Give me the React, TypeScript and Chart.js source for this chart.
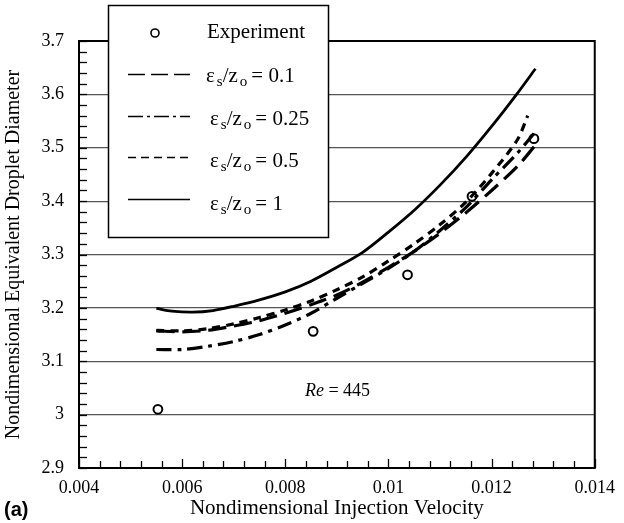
import React, { useEffect, useRef } from "react";
import { Chart, registerables } from "chart.js";

Chart.register(...registerables);

// ---- data ----
const xTicks = [0.004, 0.006, 0.008, 0.01, 0.012, 0.014];
const xTickLabels = ["0.004", "0.006", "0.008", "0.01", "0.012", "0.014"];
const yTicks = [2.9, 3.0, 3.1, 3.2, 3.3, 3.4, 3.5, 3.6, 3.7];
const yTickLabels = ["2.9", "3", "3.1", "3.2", "3.3", "3.4", "3.5", "3.6", "3.7"];

const expX = [0.00553, 0.00854, 0.01037, 0.01162, 0.01282];
const expY = [3.01, 3.156, 3.262, 3.409, 3.517];

const e01X = [0.0055, 0.006, 0.0065, 0.007, 0.0075, 0.008, 0.0085, 0.009, 0.0095, 0.01, 0.0105, 0.011, 0.0115, 0.012, 0.0125, 0.01285];
const e01Y = [3.157, 3.155, 3.158, 3.166, 3.176, 3.19, 3.206, 3.224, 3.248, 3.276, 3.306, 3.34, 3.378, 3.42, 3.465, 3.505];

const e025X = [0.0055, 0.006, 0.0065, 0.007, 0.0075, 0.008, 0.0085, 0.009, 0.0095, 0.01, 0.0105, 0.011, 0.0115, 0.012, 0.0125, 0.01285];
const e025Y = [3.122, 3.122, 3.128, 3.137, 3.15, 3.168, 3.19, 3.218, 3.246, 3.274, 3.306, 3.345, 3.388, 3.44, 3.49, 3.53];

const e05X = [0.0055, 0.006, 0.0065, 0.007, 0.0075, 0.008, 0.0085, 0.009, 0.0095, 0.01, 0.0105, 0.011, 0.0115, 0.012, 0.0125, 0.0127];
const e05Y = [3.158, 3.157, 3.161, 3.17, 3.182, 3.196, 3.213, 3.234, 3.258, 3.288, 3.32, 3.356, 3.398, 3.452, 3.515, 3.56];

const e1X = [0.0055, 0.0058, 0.0062, 0.0066, 0.007, 0.0075, 0.008, 0.0085, 0.009, 0.0095, 0.01, 0.0105, 0.011, 0.0115, 0.012, 0.0125, 0.01285];
const e1Y = [3.199, 3.194, 3.192, 3.195, 3.203, 3.215, 3.23, 3.25, 3.276, 3.304, 3.342, 3.383, 3.43, 3.482, 3.54, 3.602, 3.648];

const legendValues = ["0.1", "0.25", "0.5", "1"];
const reLabel = "445";

const SERIF = "'Liberation Serif', 'Times New Roman', serif";

const zip = (xs: number[], ys: number[]) => xs.map((x, i) => ({ x, y: ys[i] }));

const decorPlugin = {
  id: "decor",
  afterDraw(chart: any) {
    const { ctx, chartArea, scales } = chart;
    const xs = scales.x;
    const ys = scales.y;
    ctx.save();
    // frame
    ctx.strokeStyle = "#000";
    ctx.lineWidth = 2;
    ctx.strokeRect(chartArea.left, chartArea.top, chartArea.right - chartArea.left, chartArea.bottom - chartArea.top);
    // minor ticks x
    ctx.lineWidth = 1.3;
    for (let i = 0; i <= 25; i++) {
      const v = 0.004 + i * 0.0004;
      const px = Math.round(xs.getPixelForValue(v)) + 0.5;
      const len = i % 5 === 0 ? 9 : 7;
      ctx.beginPath();
      ctx.moveTo(px, chartArea.bottom);
      ctx.lineTo(px, chartArea.bottom - len);
      ctx.stroke();
    }
    // minor ticks y
    for (let i = 0; i <= 40; i++) {
      const v = 2.9 + i * 0.02;
      const py = Math.round(ys.getPixelForValue(v)) + 0.5;
      ctx.beginPath();
      ctx.moveTo(chartArea.left, py);
      ctx.lineTo(chartArea.left + 8, py);
      ctx.stroke();
    }

    // Re label
    ctx.fillStyle = "#000";
    ctx.textBaseline = "middle";
    ctx.textAlign = "left";
    const reX = xs.getPixelForValue(0.00838);
    const reY = ys.getPixelForValue(3.043);
    ctx.font = `italic 18px ${SERIF}`;
    ctx.fillText("Re", reX, reY);
    const rw = ctx.measureText("Re").width;
    ctx.font = `18px ${SERIF}`;
    ctx.fillText(" = " + reLabel, reX + rw, reY);

    // (a)
    ctx.font = "bold 20px 'Liberation Sans', Arial, sans-serif";
    ctx.fillText("(a)", 4, 510);

    // legend box
    const bx = 108.5, by = 5.5, bw = 220, bh = 232;
    ctx.fillStyle = "#fff";
    ctx.fillRect(bx, by, bw, bh);
    ctx.strokeStyle = "#000";
    ctx.lineWidth = 1.5;
    ctx.strokeRect(bx, by, bw, bh);

    // Experiment row
    ctx.lineWidth = 1.6;
    ctx.beginPath();
    ctx.arc(155, 33, 4, 0, Math.PI * 2);
    ctx.stroke();
    ctx.fillStyle = "#000";
    ctx.font = `21px ${SERIF}`;
    ctx.fillText("Experiment", 207, 32);

    const dashes = [[17, 6], [15, 4, 3, 4], [8, 5], []];
    const rowY = [75, 117, 158, 200];
    const textX = [206, 210, 210, 210];
    const textY = [76, 119, 161, 204];
    for (let k = 0; k < 4; k++) {
      const y = rowY[k];
      ctx.setLineDash(dashes[k]);
      ctx.lineWidth = 1.5;
      ctx.beginPath();
      ctx.moveTo(128, y - 0.5);
      ctx.lineTo(190, y - 0.5);
      ctx.stroke();
      ctx.setLineDash([]);
      let tx = textX[k];
      const ty = textY[k];
      ctx.font = `21px ${SERIF}`;
      ctx.fillText("\u03b5", tx, ty);
      tx += ctx.measureText("\u03b5").width + 2;
      ctx.font = `15px ${SERIF}`;
      ctx.fillText("s", tx, ty + 6);
      tx += ctx.measureText("s").width;
      ctx.font = `21px ${SERIF}`;
      ctx.fillText("/", tx, ty);
      tx += ctx.measureText("/").width;
      ctx.fillText("z", tx, ty);
      tx += ctx.measureText("z").width + 2;
      ctx.font = `15px ${SERIF}`;
      ctx.fillText("o", tx, ty + 6);
      tx += ctx.measureText("o").width + 4;
      ctx.font = `21px ${SERIF}`;
      ctx.fillText("= " + legendValues[k], tx, ty);
    }
    ctx.restore();
  },
};

export default function App() {
  const ref = useRef<HTMLCanvasElement | null>(null);
  useEffect(() => {
    if (!ref.current) return;
    const lineDs = (label: string, xs: number[], ys: number[], dash: number[], width: number) => ({
      type: "line" as const,
      label,
      data: zip(xs, ys),
      showLine: true,
      borderColor: "#000",
      borderWidth: width,
      borderDash: dash,
      pointRadius: 0,
      fill: false,
      tension: 0.3,
    });
    const chart = new Chart(ref.current, {
      type: "scatter",
      data: {
        datasets: [
          lineDs("0.1", e01X, e01Y, [18, 8], 3.2),
          lineDs("0.25", e025X, e025Y, [15, 6, 4, 6], 3.2),
          lineDs("0.5", e05X, e05Y, [8, 6], 3.2),
          lineDs("1", e1X, e1Y, [], 2.8),
          {
            type: "scatter" as const,
            label: "Experiment",
            data: zip(expX, expY),
            pointRadius: 4.4,
            pointBorderWidth: 2,
            pointBorderColor: "#000",
            pointBackgroundColor: "rgba(255,255,255,0)",
            showLine: false,
          } as any,
        ],
      },
      options: {
        animation: false,
        responsive: false,
        maintainAspectRatio: false,
        layout: { padding: { top: 41, right: 20, left: 0, bottom: 0 } },
        plugins: { legend: { display: false }, tooltip: { enabled: false } },
        scales: {
          x: {
            type: "linear",
            min: 0.004,
            max: 0.014,
            afterBuildTicks: (s: any) => {
              s.ticks = xTicks.map((v) => ({ value: v }));
            },
            afterFit: (s: any) => {
              s.height = 55;
            },
            grid: { display: false, drawTicks: false },
            border: { display: true, color: "#000", width: 2 },
            ticks: {
              color: "#000",
              font: { family: SERIF, size: 18 },
              padding: 9,
              maxRotation: 0,
              autoSkip: false,
              callback: (_v: any, i: number) => xTickLabels[i],
            },
            title: {
              display: true,
              text: "Nondimensional Injection Velocity",
              color: "#000",
              font: { family: SERIF, size: 21 },
              padding: { top: 0, bottom: 2 },
            },
          },
          y: {
            type: "linear",
            min: 2.9,
            max: 3.7,
            afterBuildTicks: (s: any) => {
              s.ticks = yTicks.map((v) => ({ value: v }));
            },
            afterFit: (s: any) => {
              s.width = 79;
            },
            grid: { display: true, color: "#555", lineWidth: 1.2, drawTicks: false },
            border: { display: true, color: "#000", width: 2 },
            ticks: {
              color: "#000",
              font: { family: SERIF, size: 18 },
              padding: 15,
              autoSkip: false,
              callback: (_v: any, i: number) => yTickLabels[i],
            },
            title: {
              display: true,
              text: "Nondimensional Equivalent Droplet Diameter",
              color: "#000",
              font: { family: SERIF, size: 20 },
              padding: { top: 2, bottom: 0 },
            },
          },
        },
      },
      plugins: [decorPlugin],
    });
    return () => chart.destroy();
  }, []);
  return (
    <div style={{ position: "fixed", left: 0, top: 0, width: 624, height: 523, background: "#fff" }}>
      <canvas ref={ref} width={624} height={523} style={{ display: "block" }} />
    </div>
  );
}
